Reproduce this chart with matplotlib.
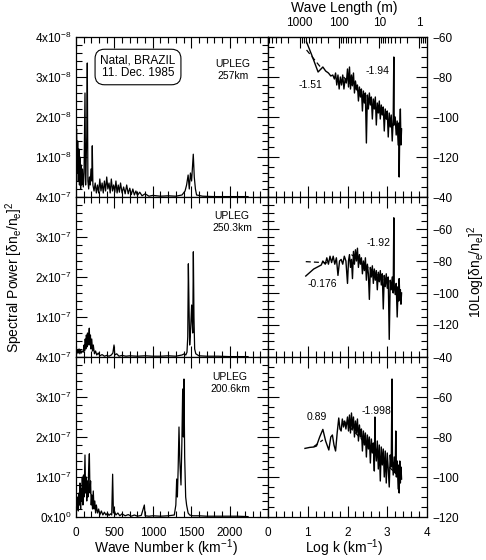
import matplotlib
matplotlib.use('Agg')
import matplotlib.pyplot as plt
from matplotlib.ticker import MultipleLocator, FixedLocator
import numpy as np

plt.rcParams['font.family'] = ['Liberation Sans', 'DejaVu Sans']
plt.rcParams['mathtext.default'] = 'regular'

# ---------------- data: left panels (linear spectra) ----------------
# top panel, power in units of 1e-8
k_top = [0, 8, 15, 22, 30, 38, 45, 52, 60, 68, 75, 85, 95, 105, 117, 125, 132, 140, 147, 155,
         165, 175, 185, 195, 205, 212, 220, 235, 250, 265, 280, 295, 310, 325, 340, 355, 370, 385,
         400, 415, 430, 445, 460, 475, 490, 505, 520, 535, 550, 565, 580, 600, 620, 640, 660, 680,
         700, 720, 740, 760, 780, 800, 830, 860, 900, 950, 1000, 1100, 1200, 1300, 1380, 1420,
         1440, 1460, 1475, 1490, 1505, 1515, 1527, 1540, 1555, 1570, 1650, 1800, 2000, 2240]
p_top = [1.5, 1.7, 0.6, 1.4, 0.4, 1.2, 0.3, 1.0, 0.2, 0.8, 0.3, 0.7, 0.25, 0.6, 2.6, 0.3, 0.9, 1.5, 3.35, 0.4,
         0.2, 0.5, 0.3, 0.7, 0.4, 1.28, 0.3, 0.15, 0.35, 0.1, 0.3, 0.1, 0.45, 0.15, 0.35, 0.1, 0.4, 0.15,
         0.5, 0.2, 0.35, 0.1, 0.45, 0.15, 0.3, 0.12, 0.4, 0.1, 0.3, 0.12, 0.35, 0.1, 0.25, 0.08, 0.3, 0.08,
         0.22, 0.06, 0.2, 0.05, 0.15, 0.04, 0.12, 0.03, 0.08, 0.02, 0.04, 0.02, 0.03, 0.02, 0.05, 0.15,
         0.3, 0.55, 0.2, 0.6, 0.4, 0.7, 1.07, 0.5, 0.2, 0.05, 0.02, 0.01, 0.01, 0.01]

# middle panel, power in units of 1e-7
k_mid = [0, 10, 20, 30, 40, 50, 60, 70, 80, 95, 105, 112, 120, 128, 135, 142, 150, 158, 165, 173,
         180, 188, 195, 205, 215, 225, 240, 255, 270, 290, 310, 340, 370, 400, 430, 460, 480, 495,
         505, 530, 560, 600, 650, 700, 800, 900, 1000, 1100, 1200, 1300, 1380, 1410, 1430, 1445,
         1455, 1463, 1472, 1480, 1490, 1506, 1515, 1520, 1528, 1536, 1545, 1560, 1600, 1700, 1850,
         2000, 2240]
p_mid = [0.15, 0.08, 0.18, 0.1, 0.2, 0.08, 0.17, 0.1, 0.15, 0.12, 0.3, 0.15, 0.45, 0.2, 0.55, 0.25, 0.6, 0.3, 0.5, 0.72,
         0.3, 0.55, 0.2, 0.45, 0.15, 0.3, 0.08, 0.15, 0.05, 0.1, 0.03, 0.06, 0.02, 0.04, 0.02, 0.05, 0.1, 0.3,
         0.05, 0.08, 0.02, 0.04, 0.02, 0.03, 0.02, 0.03, 0.02, 0.02, 0.03, 0.02, 0.05, 0.08, 0.05, 0.12,
         0.5, 2.33, 1.2, 0.3, 0.6, 1.3, 0.8, 0.6, 2.63, 1.0, 0.2, 0.08, 0.03, 0.02, 0.02,
         0.01, 0.01]

# bottom panel, power in units of 1e-7
k_bot = [0, 8, 15, 22, 30, 38, 45, 52, 60, 68, 75, 82, 90, 98, 105, 117, 125, 132, 140, 148,
         155, 165, 174, 182, 190, 198, 206, 215, 225, 235, 245, 255, 265, 280, 295, 310, 330, 350,
         370, 390, 410, 430, 450, 465, 477, 487, 500, 520, 545, 570, 600, 640, 680, 720, 760, 800,
         850, 890, 900, 950, 1000, 1100, 1200, 1280, 1300, 1311, 1320, 1330, 1341, 1352, 1367,
         1378, 1389, 1398, 1406, 1415, 1428, 1440, 1460, 1480, 1520, 1600, 1700, 1800, 1950, 2100, 2240]
p_bot = [0.1, 0.4, 0.2, 0.5, 0.15, 0.6, 0.3, 0.85, 0.2, 0.7, 0.4, 1.0, 0.3, 1.05, 0.5, 1.55, 0.6, 1.0, 0.4, 0.9,
         0.5, 1.2, 1.58, 0.6, 0.9, 0.3, 0.55, 0.2, 0.65, 0.2, 0.4, 0.1, 0.3, 0.1, 0.2, 0.05, 0.15, 0.05,
         0.12, 0.05, 0.1, 0.04, 0.08, 0.05, 1.07, 0.1, 0.15, 0.05, 0.1, 0.03, 0.08, 0.03, 0.06, 0.02, 0.05, 0.02,
         0.04, 0.3, 0.03, 0.02, 0.03, 0.02, 0.03, 0.05, 0.3, 0.95, 0.5, 1.2, 2.25, 1.4, 0.8,
         1.8, 3.2, 2.0, 3.45, 1.5, 0.5, 0.3, 0.1, 0.05, 0.03, 0.03, 0.02, 0.02, 0.02, 0.02, 0.01]

# ---------------- data: right panels (log spectra, dB) ----------------
lk_top = [0.97, 1.10, 1.26, 1.38, 1.45, 1.52, 1.58, 1.63, 1.67, 1.70, 1.73, 1.76, 1.79, 1.82, 1.85, 1.88, 1.91, 1.94, 1.97,
          2.000, 2.025, 2.050, 2.075, 2.100, 2.125, 2.150, 2.175, 2.200, 2.225, 2.250, 2.275, 2.300, 2.325, 2.350,
          2.375, 2.400, 2.425, 2.450, 2.475, 2.500, 2.525, 2.550, 2.575, 2.600, 2.625, 2.650, 2.675, 2.700, 2.725,
          2.750, 2.775, 2.800, 2.825, 2.850, 2.875, 2.900, 2.925, 2.950, 2.975, 3.000, 3.025, 3.050, 3.075, 3.100,
          3.125, 3.150, 3.165, 3.175, 3.200, 3.225, 3.250, 3.275, 3.290, 3.300, 3.315, 3.330, 3.345, 3.360]
db_top = [-62.5, -69, -77.5, -75, -77, -78, -79.5, -79, -81, -78, -84, -79, -86, -80, -84, -79, -86, -81, -83,
          -76, -85, -75, -86, -79, -84, -78, -88, -82, -86, -84, -92, -85, -90, -86,
          -97, -87, -93, -88, -113, -89, -96, -88, -94, -90, -101, -91, -96, -90, -104,
          -93, -98, -92, -101, -94, -99, -95, -107, -96, -101, -97, -110, -98, -105, -99,
          -112, -101, -70, -104, -100, -109, -102, -114, -103, -130, -105, -96, -114, -106]

lk_mid = [0.95, 1.15, 1.34, 1.38, 1.44, 1.48, 1.52, 1.56, 1.60, 1.64, 1.68, 1.72, 1.76, 1.80, 1.84, 1.88, 1.92, 1.96,
          2.000, 2.025, 2.050, 2.075, 2.100, 2.125, 2.150, 2.175, 2.200, 2.225, 2.250, 2.275, 2.300, 2.325, 2.350,
          2.375, 2.400, 2.425, 2.450, 2.475, 2.500, 2.525, 2.550, 2.575, 2.600, 2.625, 2.650, 2.675, 2.700, 2.725,
          2.750, 2.775, 2.800, 2.825, 2.850, 2.875, 2.900, 2.925, 2.950, 2.975, 3.000, 3.025, 3.050, 3.075, 3.100,
          3.125, 3.150, 3.165, 3.175, 3.200, 3.225, 3.250, 3.275, 3.290, 3.300, 3.315, 3.330, 3.345, 3.360]
db_mid = [-89.4, -85, -82.5, -80, -82, -78, -82, -77, -81, -77, -82, -78, -89, -80, -79, -82, -77, -80,
          -94, -80, -76, -84, -79, -91, -74, -82, -73, -80, -72, -84, -76, -82, -78,
          -88, -80, -86, -78, -92, -82, -88, -104, -84, -90, -83, -94, -85, -92, -86,
          -98, -87, -93, -86, -95, -88, -110, -89, -96, -88, -97, -90, -129, -92, -98,
          -90, -100, -53, -95, -101, -94, -115, -96, -105, -91, -104, -98, -107, -100]

lk_bot = [0.93, 1.05, 1.15, 1.22, 1.30, 1.38, 1.45, 1.53, 1.58, 1.62, 1.66, 1.70, 1.74, 1.78, 1.81, 1.84, 1.87, 1.90,
          1.93, 1.96, 2.000, 2.025, 2.050, 2.075, 2.100, 2.125, 2.150, 2.175, 2.200, 2.225, 2.250, 2.275, 2.300,
          2.325, 2.350, 2.375, 2.400, 2.425, 2.450, 2.475, 2.500, 2.525, 2.550, 2.575, 2.600, 2.625, 2.650, 2.675,
          2.690, 2.700, 2.725, 2.750, 2.775, 2.800, 2.825, 2.850, 2.875, 2.900, 2.925, 2.950, 2.975, 3.000, 3.025,
          3.050, 3.075, 3.100, 3.120, 3.130, 3.150, 3.175, 3.200, 3.215, 3.230, 3.250, 3.275, 3.290, 3.300, 3.315,
          3.330, 3.345, 3.360]
db_bot = [-85.7, -85.2, -85, -84.5, -80, -76.2, -82, -86.5, -80, -79, -84, -87, -78, -70.5, -76, -77, -71, -75,
          -72, -76, -70, -77, -69, -78, -68, -76, -70, -80, -72, -78, -71, -82, -74,
          -80, -76, -87, -77, -84, -78, -90, -79, -86, -80, -93, -81, -88, -83, -97,
          -70, -85, -92, -82, -96, -84, -102, -85, -94, -86, -100, -87, -103, -88, -96,
          -105, -89, -95, -51, -92, -99, -90, -98, -77, -100, -92, -106, -94, -108, -92,
          -103, -95, -101]

# fitted slope lines (log k, dB) endpoints and their labels
fit_top = [([0.97, 1.36], [-66.5, -76]), ([1.9, 3.35], [-80, -108])]
fit_mid = [([0.95, 1.55], [-80.4, -81.2]), ([2.1, 3.35], [-76, -100])]
fit_bot = [([1.15, 1.38], [-84.8, -81.5]), ([1.9, 3.35], [-72, -101])]
slope_labels_top = [("-1.51", 1.08, -84), ("-1.94", 2.75, -77)]
slope_labels_mid = [("-0.176", 1.37, -94.4), ("-1.92", 2.78, -68.8)]
slope_labels_bot = [("0.89", 1.22, -70), ("-1.998", 2.72, -67)]

left_ylabels_top = ['', '1x10$^{-8}$', '2x10$^{-8}$', '3x10$^{-8}$', '4x10$^{-8}$']
left_ylabels_mid = ['', '1x10$^{-7}$', '2x10$^{-7}$', '3x10$^{-7}$', '4x10$^{-7}$']
left_ylabels_bot = ['0x10$^{0}$', '1x10$^{-7}$', '2x10$^{-7}$', '3x10$^{-7}$', '4x10$^{-7}$']

wl_major = [1000, 100, 10, 1]
wl_minor = [6000, 5000, 4000, 3000, 2000, 900, 800, 700, 600, 500, 400, 300, 200,
            90, 80, 70, 60, 50, 40, 30, 20, 9, 8, 7, 6, 5, 4, 3, 2, 0.9, 0.8, 0.7]

# ---------------- figure ----------------
W, H = 486, 560
fig = plt.figure(figsize=(W / 100, H / 100), dpi=100)


def rect(x0, y0, x1, y1):
    return [x0 / W, 1 - y1 / H, (x1 - x0) / W, (y1 - y0) / H]


rows = [(37, 197), (197, 357), (357, 517)]
XL0, XL1, XR1 = 76, 268, 427
FS_TICK = 8.5

left_data = [(k_top, p_top, left_ylabels_top), (k_mid, p_mid, left_ylabels_mid), (k_bot, p_bot, left_ylabels_bot)]
right_data = [(lk_top, db_top, (-140, -60), [-60, -80, -100, -120], fit_top, slope_labels_top),
              (lk_mid, db_mid, (-140, -40), [-40, -60, -80, -100, -120], fit_mid, slope_labels_mid),
              (lk_bot, db_bot, (-120, -40), [-40, -60, -80, -100, -120], fit_bot, slope_labels_bot)]


def style(ax):
    ax.tick_params(which='both', direction='in', top=True, right=True, left=True, bottom=True,
                   width=0.8, labelsize=FS_TICK)
    ax.tick_params(which='major', length=8)
    ax.tick_params(which='minor', length=4)
    for s in ax.spines.values():
        s.set_linewidth(0.9)


for i, (y0, y1) in enumerate(rows):
    kx, py, ylabs = left_data[i]
    ax = fig.add_axes(rect(XL0, y0, XL1, y1))
    ax.plot(kx, py, color='k', lw=0.9)
    ax.set_xlim(0, 2500)
    ax.set_ylim(0, 4)
    ax.xaxis.set_major_locator(MultipleLocator(500))
    ax.xaxis.set_minor_locator(MultipleLocator(100))
    ax.set_yticks([0, 1, 2, 3, 4])
    ax.set_yticklabels(ylabs)
    ax.yaxis.set_minor_locator(MultipleLocator(0.2))
    style(ax)
    ax.tick_params(axis='y', pad=3)
    ax.tick_params(axis='x', pad=7)
    if i < 2:
        ax.set_xticklabels([])
    else:
        ax.set_xticks([0, 500, 1000, 1500, 2000])

    lx, ly, ylim, yt, fits, slabs = right_data[i]
    ar = fig.add_axes(rect(XL1, y0, XR1, y1))
    ar.plot(lx, ly, color='k', lw=1.0)
    for fx, fy in fits:
        ar.plot(fx, fy, color='k', lw=0.9, ls=(0, (4, 2.5)))
    for txt, tx, ty in slabs:
        ar.text(tx, ty, txt, fontsize=7.5, ha='center', va='center')
    ar.set_xlim(0, 4)
    ar.set_ylim(*ylim)
    ar.xaxis.set_major_locator(MultipleLocator(1))
    ar.xaxis.set_minor_locator(MultipleLocator(0.2))
    ar.set_yticks(yt)
    ar.yaxis.set_minor_locator(MultipleLocator(5))
    style(ar)
    ar.tick_params(axis='y', labelleft=False, labelright=True, pad=4)
    ar.tick_params(axis='x', pad=7)
    if i < 2:
        ar.set_xticklabels([])
    if i == 0:
        ar.tick_params(which='both', top=False)
        tw = ar.twiny()
        tw.set_xlim(0, 4)
        tw.xaxis.set_major_locator(FixedLocator([np.log10(2000 * np.pi / w) for w in wl_major]))
        tw.xaxis.set_minor_locator(FixedLocator([np.log10(2000 * np.pi / w) for w in wl_minor]))
        tw.set_xticklabels([str(w) for w in wl_major])
        tw.tick_params(which='both', direction='in', width=0.8, labelsize=FS_TICK, pad=6)
        tw.tick_params(which='major', length=8)
        tw.tick_params(which='minor', length=4)

# annotations
fig.text(138 / W, 1 - 67 / H, "Natal, BRAZIL\n11. Dec. 1985", fontsize=8.5, ha='center', va='center',
         linespacing=1.1,
         bbox=dict(boxstyle='round,pad=0.45,rounding_size=0.8', fc='white', ec='k', lw=0.8))
for (tx, ty, t) in [(233, 70, "UPLEG\n257km"), (232, 222, "UPLEG\n250.3km"), (230, 383, "UPLEG\n200.6km")]:
    fig.text(tx / W, 1 - ty / H, t, fontsize=7.5, ha='center', va='center', linespacing=1.15)

fig.text(14 / W, 1 - 277 / H, "Spectral Power [δn$_e$/n$_e$]$^2$", rotation=90, fontsize=10,
         ha='center', va='center')
fig.text(476 / W, 1 - 272 / H, "10Log[δn$_e$/n$_e$]$^2$", rotation=90, fontsize=10,
         ha='center', va='center')
fig.text(166 / W, 1 - 548 / H, "Wave Number k (km$^{-1}$)", fontsize=10, ha='center', va='center')
fig.text(344 / W, 1 - 548 / H, "Log k (km$^{-1}$)", fontsize=10, ha='center', va='center')
fig.text(344 / W, 1 - 8 / H, "Wave Length (m)", fontsize=10, ha='center', va='center')

fig.savefig('out.png', dpi=100)
